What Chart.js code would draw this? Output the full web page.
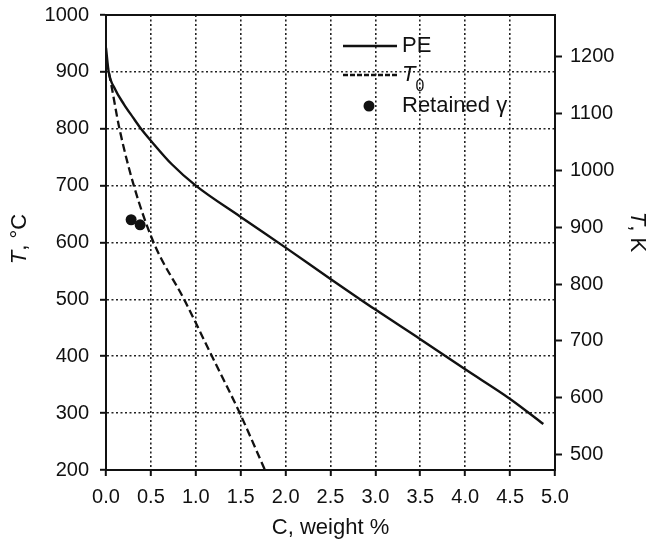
<!DOCTYPE html>
<html>
<head>
<meta charset="utf-8">
<script src="https://cdn.jsdelivr.net/npm/chart.js@4"></script>
<style>
  html, body { margin: 0; padding: 0; background: #fff; }
  #wrap { width: 652px; height: 544px; }
</style>
</head>
<body>
<div id="wrap"><canvas id="chart" width="652" height="544"></canvas></div>
<script>
// paraequilibrium (PE) line, wt% C vs °C
const peC = [0, 0.03, 0.1, 0.2, 0.3, 0.39, 0.5, 0.73, 1.0, 1.5, 2.0, 2.5, 3.0, 3.5, 4.0, 4.5, 4.87];
const peT = [942, 900, 870, 843, 820, 800, 779, 738, 700, 645, 591, 536, 482, 430, 377, 325, 281];

// T0 line
const t0C = [0, 0.03, 0.15, 0.31, 0.53, 0.87, 1.18, 1.49, 1.77];
const t0T = [918, 900, 800, 700, 600, 500, 400, 300, 200];

// retained austenite measurements
const gammaC = [0.28, 0.38];
const gammaT = [640, 631];

const xTicks = [0, 0.5, 1, 1.5, 2, 2.5, 3, 3.5, 4, 4.5, 5];
const cTicks = [200, 300, 400, 500, 600, 700, 800, 900, 1000];
const kTicks = [500, 600, 700, 800, 900, 1000, 1100, 1200];

const FONT = '"Liberation Sans", Arial, sans-serif';
const INK = '#111';

const pts = (xs, ys) => xs.map((x, i) => ({ x, y: ys[i] }));

// draws a run of text pieces: {t, italic, sub}
function drawRich(ctx, parts, x, y, size) {
  let cx = x;
  parts.forEach(p => {
    const s = p.sub ? size * 0.72 : size;
    ctx.font = (p.italic ? 'italic ' : '') + s + 'px ' + FONT;
    ctx.fillText(p.t, cx, p.sub ? y + size * 0.55 : y);
    cx += ctx.measureText(p.t).width;
  });
  return cx - x;
}

function richWidth(ctx, parts, size) {
  let w = 0;
  parts.forEach(p => {
    const s = p.sub ? size * 0.72 : size;
    ctx.font = (p.italic ? 'italic ' : '') + s + 'px ' + FONT;
    w += ctx.measureText(p.t).width;
  });
  return w;
}

const legendParts = [
  [{ t: 'PE' }],
  [{ t: 'T', italic: true }, { t: '0', sub: true }],
  [{ t: 'Retained γ' }]
];

const decorations = {
  id: 'decorations',
  afterDraw(chart) {
    const { ctx, chartArea: a } = chart;
    ctx.save();
    // frame
    ctx.strokeStyle = INK;
    ctx.lineWidth = 2;
    ctx.strokeRect(a.left, a.top, a.right - a.left, a.bottom - a.top);

    ctx.fillStyle = INK;
    ctx.textBaseline = 'middle';

    // axis titles
    const bottom = [{ t: 'C, weight %' }];
    drawRich(ctx, bottom, (a.left + a.right) / 2 - richWidth(ctx, bottom, 22) / 2, 528, 22);

    const left = [{ t: 'T', italic: true }, { t: ', °C' }];
    ctx.save();
    ctx.translate(20, 239);
    ctx.rotate(-Math.PI / 2);
    drawRich(ctx, left, -richWidth(ctx, left, 22) / 2, 0, 22);
    ctx.restore();

    const right = [{ t: 'T', italic: true }, { t: ', K' }];
    ctx.save();
    ctx.translate(637, 232);
    ctx.rotate(Math.PI / 2);
    drawRich(ctx, right, -richWidth(ctx, right, 22) / 2, 0, 22);
    ctx.restore();

    // legend
    const lx = 343, ly = 46, gap = 29;
    chart.data.datasets.forEach((ds, i) => {
      const y = ly + i * gap;
      ctx.strokeStyle = ds.borderColor;
      ctx.lineWidth = ds.borderWidth;
      if (ds.showLine === false) {
        ctx.beginPath();
        ctx.arc(lx + 26, y + 2, ds.pointRadius, 0, Math.PI * 2);
        ctx.fill();
      } else {
        ctx.setLineDash(ds.borderDash ? [5, 2] : []);
        ctx.beginPath();
        ctx.moveTo(lx, y);
        ctx.lineTo(lx + 54, y);
        ctx.stroke();
        ctx.setLineDash([]);
      }
      drawRich(ctx, legendParts[i], lx + 59, y + (i === 2 ? 2 : 0), 22);
    });
    ctx.restore();
  }
};

const tickFont = { family: FONT, size: 20 };

// vertical axes: fixed width, no extra room reserved above/below for labels
const fitVertical = width => s => {
  s.width = width;
  s.paddingTop = 0;
  s.paddingBottom = 0;
};

new Chart(document.getElementById('chart'), {
  type: 'line',
  data: {
    datasets: [
      {
        label: 'PE',
        data: pts(peC, peT),
        borderColor: INK,
        borderWidth: 2.4,
        pointRadius: 0,
        cubicInterpolationMode: 'monotone'
      },
      {
        label: 'T0',
        data: pts(t0C, t0T),
        borderColor: INK,
        borderWidth: 2.3,
        borderDash: [8, 4],
        pointRadius: 0,
        cubicInterpolationMode: 'monotone'
      },
      {
        label: 'Retained γ',
        data: pts(gammaC, gammaT),
        showLine: false,
        borderColor: INK,
        backgroundColor: INK,
        pointRadius: 5.5,
        pointBorderWidth: 0
      }
    ]
  },
  options: {
    responsive: false,
    animation: false,
    layout: { padding: { top: 15, left: 0, right: 0, bottom: 0 } },
    plugins: { legend: { display: false }, tooltip: { enabled: false } },
    scales: {
      x: {
        type: 'linear',
        position: 'bottom',
        min: 0,
        max: 5,
        afterBuildTicks: s => { s.ticks = xTicks.map(v => ({ value: v })); },
        afterFit: s => { s.height = 74; },
        ticks: { font: tickFont, color: INK, padding: 9, maxRotation: 0, callback: v => v.toFixed(1) },
        grid: { color: '#222', lineWidth: 1.6, tickLength: 6, tickColor: INK, tickWidth: 2 },
        border: { color: INK, width: 2, dash: [2, 2.5] }
      },
      y: {
        position: 'left',
        min: 200,
        max: 1000,
        afterBuildTicks: s => { s.ticks = cTicks.map(v => ({ value: v })); },
        afterFit: fitVertical(106),
        ticks: { font: tickFont, color: INK, padding: 11, callback: v => String(v) },
        grid: { color: '#222', lineWidth: 1.6, tickLength: 6, tickColor: INK, tickWidth: 2 },
        border: { color: INK, width: 2, dash: [2, 2.5] }
      },
      y2: {
        position: 'right',
        min: 473.15,
        max: 1273.15,
        afterBuildTicks: s => { s.ticks = kTicks.map(v => ({ value: v })); },
        afterFit: fitVertical(97),
        ticks: { font: tickFont, color: INK, padding: 8, callback: v => String(v) },
        grid: { drawOnChartArea: false, tickLength: 7, tickColor: INK, tickWidth: 2 },
        border: { color: INK, width: 2 }
      }
    }
  },
  plugins: [decorations]
});
</script>
</body>
</html>
